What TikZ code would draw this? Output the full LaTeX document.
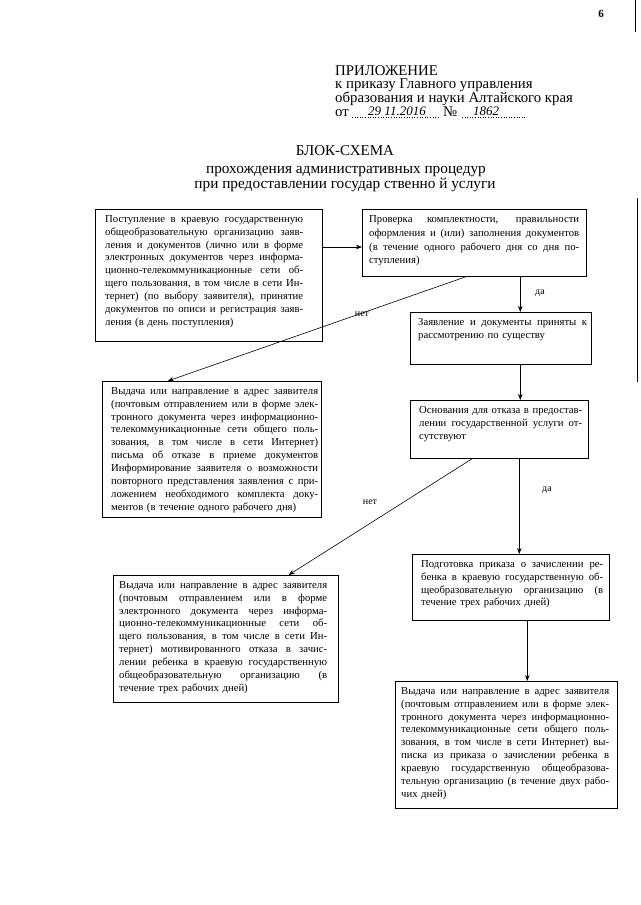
\documentclass[tikz,border=0pt]{standalone}
\usepackage{fontspec}
\setmainfont{Liberation Serif}
\usetikzlibrary{arrows.meta,calc}
\newlength\jw
\newcommand\jline[1]{{\spaceskip=0pt\xspaceskip=0pt\makebox[\jw][s]{#1}}}
\begin{document}
\begin{tikzpicture}[x=1pt,y=-1pt,
  box/.style={draw,line width=0.6pt,anchor=north west,inner sep=0pt},
  txt/.style={anchor=north west,inner sep=0pt,align=left,font=\fontsize{10.7}{12.9}\selectfont},
  hdr/.style={anchor=base west,inner sep=0pt,font=\fontsize{14.8}{15}\selectfont},
  ttl/.style={anchor=base,inner sep=0pt,font=\fontsize{15.3}{16}\selectfont},
  arr/.style={-{Stealth[length=6pt,width=4.5pt]},line width=0.6pt},
  lbl/.style={inner sep=0pt,font=\fontsize{10}{11}\selectfont},
  hand/.style={inner sep=0pt,anchor=base,font=\fontsize{13}{13}\selectfont\itshape}]
\useasboundingbox (0,0) rectangle (640,905);
\fill[white] (0,0) rectangle (640,905);
\draw[line width=0.8pt] (635,0) -- (635,32);
\draw[line width=0.6pt] (637,198) -- (637,382);
\node[anchor=base,inner sep=0pt,font=\fontsize{11}{12}\selectfont\bfseries] (pg) at (601,17) {6};
% header
\node[hdr] (h1) at (335,75) {ПРИЛОЖЕНИЕ};
\node[hdr] (h2) at (335,88.5) {к приказу Главного управления};
\node[hdr] (h3) at (335,102) {образования и науки Алтайского края};
\node[hdr] (h4) at (335,116) {от};
\draw[dotted,line width=0.6pt] (352,117) -- (440,117);
\node[hand] (d1) at (397,115.5) {29 11.2016};
\node[hdr] (h5) at (443,116) {№};
\draw[dotted,line width=0.6pt] (462,117) -- (525,117);
\node[hand] (d2) at (486,115.5) {1862};
% title
\node[ttl,font=\fontsize{15}{16}\selectfont] (t1) at (345,155) {БЛОК-СХЕМА};
\node[ttl] (t2) at (346,173) {прохождения административных процедур};
\node[ttl] (t3) at (345,188) {при предоставлении государ ственно й услуги};
% boxes
\node[box,minimum width=227pt,minimum height=132pt] (b1) at (95,209) {};
\node[txt,text width=198pt] (x1) at ($(b1.north west)+(10,6)$) {\setlength\jw{198pt}%
\jline{Поступление в краевую государственную}\\
\jline{общеобразовательную организацию заяв-}\\
\jline{ления и документов (лично или в форме}\\
\jline{электронных документов через информа-}\\
\jline{ционно-телекоммуникационные сети об-}\\
\jline{щего пользования, в том числе в сети Ин-}\\
\jline{тернет) (по выбору заявителя), принятие}\\
\jline{документов по описи и регистрация заяв-}\\
ления (в день поступления)};

\node[box,minimum width=224pt,minimum height=67pt] (b2) at (362,209) {};
\node[txt,text width=210pt,font=\fontsize{10.7}{13.9}\selectfont] (x2) at ($(b2.north west)+(7,6)$) {\setlength\jw{210pt}%
\jline{Проверка комплектности, правильности}\\
\jline{оформления и (или) заполнения документов}\\
\jline{(в течение одного рабочего дня со дня по-}\\
ступления)};

\node[box,minimum width=181pt,minimum height=52pt] (b3) at (410,312) {};
\node[txt,text width=169pt] (x3) at ($(b3.north west)+(8,6)$) {\setlength\jw{169pt}%
\jline{Заявление и документы приняты к}\\
рассмотрению по существу};

\node[box,minimum width=219pt,minimum height=136pt] (b4) at (102,381) {};
\node[txt,text width=207pt] (x4) at ($(b4.north west)+(9,6)$) {\setlength\jw{207pt}%
\jline{Выдача или направление в адрес заявителя}\\
\jline{(почтовым отправлением или в форме элек-}\\
\jline{тронного документа через информационно-}\\
\jline{телекоммуникационные сети общего поль-}\\
\jline{зования, в том числе в сети Интернет)}\\
\jline{письма об отказе в приеме документов}\\
\jline{Информирование заявителя о возможности}\\
\jline{повторного представления заявления с при-}\\
\jline{ложением необходимого комплекта доку-}\\
ментов (в течение одного рабочего дня)};

\node[box,minimum width=178pt,minimum height=58pt] (b5) at (410,400) {};
\node[txt,text width=163pt] (x5) at ($(b5.north west)+(9,6)$) {\setlength\jw{163pt}%
\jline{Основания для отказа в предостав-}\\
\jline{лении государственной услуги от-}\\
сутствуют};

\node[box,minimum width=197pt,minimum height=66pt] (b6) at (412,554) {};
\node[txt,text width=182pt] (x6) at ($(b6.north west)+(9,6)$) {\setlength\jw{182pt}%
\jline{Подготовка приказа о зачислении ре-}\\
\jline{бенка в краевую государственную об-}\\
\jline{щеобразовательную организацию (в}\\
течение трех рабочих дней)};

\node[box,minimum width=225pt,minimum height=127pt] (b7) at (113,575) {};
\node[txt,text width=208pt] (x7) at ($(b7.north west)+(6,6)$) {\setlength\jw{208pt}%
\jline{Выдача или направление в адрес заявителя}\\
\jline{(почтовым отправлением или в форме}\\
\jline{электронного документа через информа-}\\
\jline{ционно-телекоммуникационные сети об-}\\
\jline{щего пользования, в том числе в сети Ин-}\\
\jline{тернет) мотивированного отказа в зачис-}\\
\jline{лении ребенка в краевую государственную}\\
\jline{общеобразовательную организацию (в}\\
течение трех рабочих дней)};

\node[box,minimum width=222pt,minimum height=127pt] (b8) at (395,681) {};
\node[txt,text width=208pt] (x8) at ($(b8.north west)+(6,6)$) {\setlength\jw{208pt}%
\jline{Выдача или направление в адрес заявителя}\\
\jline{(почтовым отправлением или в форме элек-}\\
\jline{тронного документа через информационно-}\\
\jline{телекоммуникационные сети общего поль-}\\
\jline{зования, в том числе в сети Интернет) вы-}\\
\jline{писка из приказа о зачислении ребенка в}\\
\jline{краевую государственную общеобразова-}\\
\jline{тельную организацию (в течение двух рабо-}\\
чих дней)};

% connectors
\draw[arr] ([yshift=-38pt]b1.north east) -- ([yshift=-38pt]b2.north west);
\draw[arr] ([xshift=-8pt]b2.south) -- ([xshift=-44pt]b4.north);
\draw[arr] ([xshift=46pt]b2.south) -- ([xshift=46pt]b2.south |- b3.north);
\draw[arr] ([xshift=46pt]b2.south |- b3.south) -- ([xshift=46pt]b2.south |- b5.north);
\draw[arr] ([xshift=-27pt]b5.south) -- ([xshift=-50pt]b7.north east);
\draw[arr] ([xshift=45pt]b2.south |- b5.south) -- ([xshift=45pt]b2.south |- b6.north);
\draw[arr] ([xshift=53pt]b2.south |- b6.south) -- ([xshift=53pt]b2.south |- b8.north);
% labels
\node[lbl] (n1) at (362,314) {нет};
\node[lbl] (y1) at (540,293) {да};
\node[lbl] (n2) at (370,502) {нет};
\node[lbl] (y2) at (547,490) {да};
\end{tikzpicture}
\end{document}
